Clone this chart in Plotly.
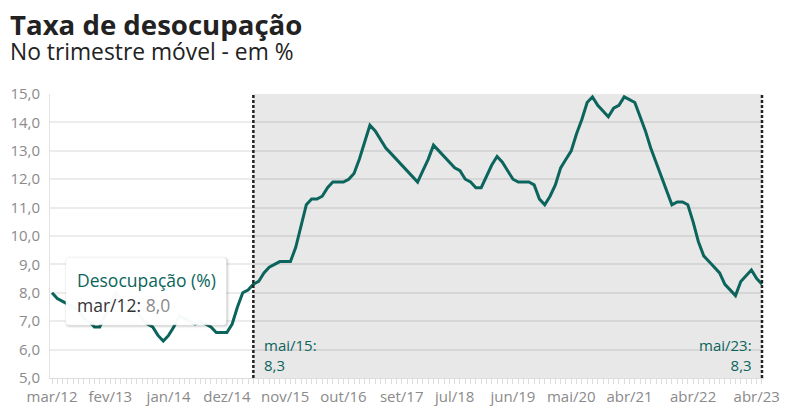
import plotly.graph_objects as go

# ---------------- data ----------------
month_names = ["jan", "fev", "mar", "abr", "mai", "jun", "jul", "ago", "set", "out", "nov", "dez"]
categories = [f"{month_names[m]}/{str(y)[2:]}"
              for y in range(2012, 2024) for m in range(12)
              if (2012, 2) <= (y, m) <= (2023, 4)]

v2012 = [8.0, 7.8, 7.7, 7.6, 7.5, 7.4, 7.1, 7.0, 6.8, 6.8]
v2013 = [7.2, 7.6, 8.0, 7.8, 7.6, 7.4, 7.3, 7.1, 6.9, 6.8, 6.5, 6.3]
v2014 = [6.5, 6.8, 7.2, 7.1, 7.0, 6.9, 7.0, 6.9, 6.8, 6.6, 6.6, 6.6]
v2015 = [6.9, 7.5, 8.0, 8.1, 8.3, 8.4, 8.7, 8.9, 9.0, 9.1, 9.1, 9.1]
v2016 = [9.6, 10.3, 11.1, 11.3, 11.3, 11.4, 11.7, 11.9, 11.9, 11.9, 12.0, 12.2]
v2017 = [12.7, 13.3, 13.9, 13.7, 13.4, 13.1, 12.9, 12.7, 12.5, 12.3, 12.1, 11.9]
v2018 = [12.3, 12.7, 13.2, 13.0, 12.8, 12.6, 12.4, 12.3, 12.0, 11.9, 11.7, 11.7]
v2019 = [12.1, 12.5, 12.8, 12.6, 12.3, 12.0, 11.9, 11.9, 11.9, 11.8, 11.3, 11.1]
v2020 = [11.4, 11.8, 12.4, 12.7, 13.0, 13.6, 14.1, 14.7, 14.9, 14.6, 14.4, 14.2]
v2021 = [14.5, 14.6, 14.9, 14.8, 14.7, 14.2, 13.7, 13.1, 12.6, 12.1, 11.6, 11.1]
v2022 = [11.2, 11.2, 11.1, 10.5, 9.8, 9.3, 9.1, 8.9, 8.7, 8.3, 8.1, 7.9]
v2023 = [8.4, 8.6, 8.8, 8.5, 8.3]
values = v2012 + v2013 + v2014 + v2015 + v2016 + v2017 + v2018 + v2019 + v2020 + v2021 + v2022 + v2023

tick_labels = ["mar/12", "fev/13", "jan/14", "dez/14", "nov/15", "out/16", "set/17",
               "jul/18", "jun/19", "mai/20", "abr/21", "abr/22", "abr/23"]
marked = ["mai/15", "mai/23"]
tooltip_cat = "mar/12"
series_name = "Desocupação (%)"
y_ticks = [5, 6, 7, 8, 9, 10, 11, 12, 13, 14, 15]

# ---------------- style ----------------
TEAL = "#0b655c"
FONT = "Open Sans, sans-serif"

x = list(range(len(categories)))
idx = {c: i for i, c in enumerate(categories)}


def br(v):
    return f"{v:.1f}".replace(".", ",")


fig = go.Figure()
fig.add_trace(go.Scatter(x=x, y=values, mode="lines",
                         line=dict(color=TEAL, width=3), hoverinfo="skip",
                         showlegend=False))

i0, i1 = idx[marked[0]], idx[marked[1]]
shapes = [
    dict(type="rect", xref="x", yref="paper", x0=i0, x1=i1, y0=0, y1=1,
         fillcolor="#e8e8e8", line=dict(width=0), layer="below"),
    dict(type="line", xref="x", yref="paper", x0=i0, x1=i0, y0=0, y1=1,
         line=dict(color="#222", width=2.5, dash="3px,2px"), layer="above"),
    dict(type="line", xref="x", yref="paper", x0=i1, x1=i1, y0=0, y1=1,
         line=dict(color="#222", width=2.5, dash="3px,2px"), layer="above"),
]

# tooltip box (pixel offsets from the hovered point)
ti = idx[tooltip_cat]
tv = values[ti]


def box_path(l, r, t, b, rad=3, dx=0, dy=0):
    l += dx; r += dx; t += dy; b += dy
    return (f"M {l+rad},{t} L {r-rad},{t} Q {r},{t} {r},{t-rad} L {r},{b+rad} "
            f"Q {r},{b} {r-rad},{b} L {l+rad},{b} Q {l},{b} {l},{b+rad} "
            f"L {l},{t-rad} Q {l},{t} {l+rad},{t} Z")


for w, a in [(5, 0.03), (3, 0.06), (1, 0.10)]:
    shapes.append(dict(type="path", xref="x", yref="y", xsizemode="pixel", ysizemode="pixel",
                       xanchor=ti, yanchor=tv, path=box_path(14, 174, 35, -32, dx=1, dy=-1),
                       line=dict(color=f"rgba(0,0,0,{a})", width=w),
                       fillcolor="rgba(0,0,0,0)", layer="above"))
shapes.append(dict(type="path", xref="x", yref="y", xsizemode="pixel", ysizemode="pixel",
                   xanchor=ti, yanchor=tv, path=box_path(14, 174, 35, -32),
                   line=dict(color="rgba(255,255,255,1)", width=0.5),
                   fillcolor="rgba(255,255,255,0.97)", layer="above"))

annotations = [
    dict(text="<b>Taxa de desocupação</b>", xref="paper", yref="paper",
         x=-0.0588, y=1.2482, xanchor="left", yanchor="middle", showarrow=False,
         font=dict(family=FONT, size=27.6, color="#222")),
    dict(text="No trimestre móvel - em %", xref="paper", yref="paper",
         x=-0.0588, y=1.1496, xanchor="left", yanchor="middle", showarrow=False,
         font=dict(family=FONT, size=22.8, color="#222")),
    dict(text=f"{marked[0]}:<br>{br(values[i0])}", xref="x", yref="y", x=i0, y=5,
         xanchor="left", yanchor="middle", xshift=9, yshift=23, align="left",
         showarrow=False, font=dict(family=FONT, size=15, color=TEAL)),
    dict(text=f"{marked[1]}:<br>{br(values[i1])}", xref="x", yref="y", x=i1, y=5,
         xanchor="right", yanchor="middle", xshift=-8, yshift=23, align="right",
         showarrow=False, font=dict(family=FONT, size=15, color=TEAL)),
    dict(text=series_name, xref="x", yref="y", x=ti, y=tv,
         xanchor="left", yanchor="middle", xshift=23, yshift=13, showarrow=False,
         font=dict(family=FONT, size=17.5, color=TEAL)),
    dict(text=f"<span style='color:#333'>{tooltip_cat}:</span> "
              f"<span style='color:#8a8a8a'>{br(tv)}</span>",
         xref="x", yref="y", x=ti, y=tv,
         xanchor="left", yanchor="middle", xshift=23, yshift=-12, showarrow=False,
         font=dict(family=FONT, size=17.5, color="#333")),
]

# the page body adds an 8px offset, so the figure is 8px smaller on each axis
fig.update_layout(
    width=788, height=407,
    margin=dict(l=42, r=32, t=86, b=37, autoexpand=False),
    paper_bgcolor="white", plot_bgcolor="white",
    separators=",.",
    font=dict(family=FONT, size=15, color="#8a8a8a"),
    shapes=shapes, annotations=annotations,
    hovermode=False,
    xaxis=dict(range=[-0.38, len(categories) - 1 + 0.38],
               tickmode="array", tickvals=[idx[t] for t in tick_labels], ticktext=tick_labels,
               ticks="outside", ticklen=5, tickwidth=1, tickcolor="#dcdcdc",
               tickfont=dict(family=FONT, size=15, color="#8a8a8a"),
               showgrid=False, zeroline=False, showline=True, linecolor="#dcdcdc", linewidth=1,
               minor=dict(tickmode="array", tickvals=x, ticks="outside", ticklen=5,
                          tickwidth=1, tickcolor="#dcdcdc", showgrid=False)),
    yaxis=dict(range=[5, 15], tickmode="array", tickvals=y_ticks, tickformat=".1f",
               ticks="", ticklabelstandoff=6,
               tickfont=dict(family=FONT, size=15, color="#8a8a8a"),
               showgrid=True, gridcolor="rgba(0,0,0,0.075)", gridwidth=2,
               zeroline=False, showline=True, linecolor="#e3e3e3", linewidth=1),
)

fig.write_html("out.html")
